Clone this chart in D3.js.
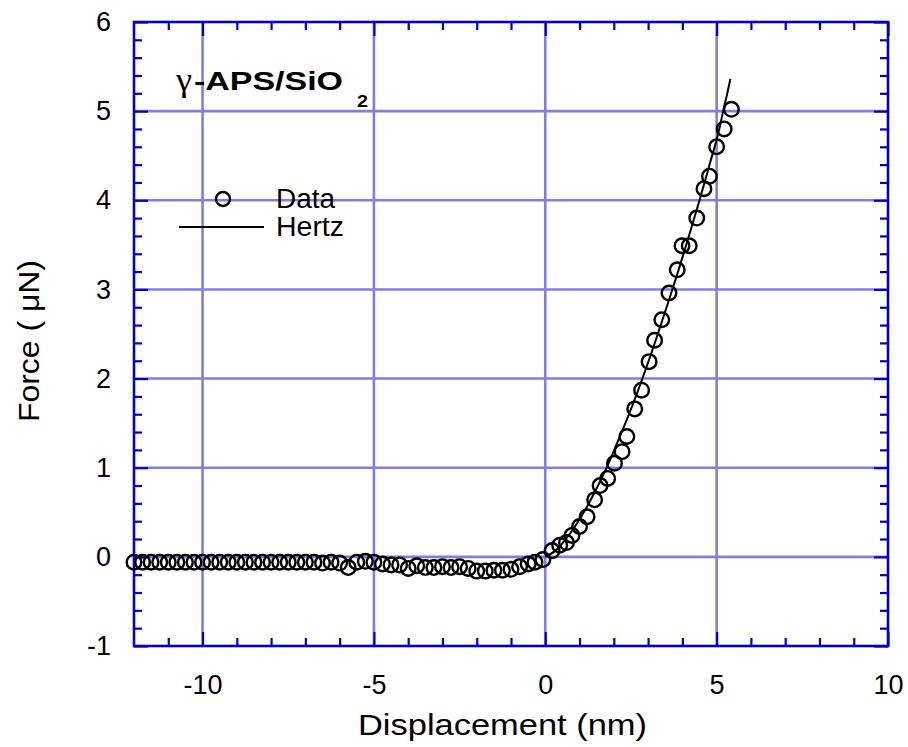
<!DOCTYPE html>
<html>
<head>
<meta charset="utf-8">
<script src="https://cdn.jsdelivr.net/npm/d3@7"></script>
<style>
  html, body { margin: 0; padding: 0; background: #fff; }
  svg { display: block; font-family: Arial, "Liberation Sans", sans-serif; }
</style>
</head>
<body>
<svg id="chart" width="908" height="747"></svg>
<script>
// ---- Data ----
const dataX = [
  -12.0, -11.75, -11.5, -11.25, -11.0, -10.75, -10.5, -10.25, -10.0, -9.75, -9.5, -9.25,
  -9.0, -8.75, -8.5, -8.25, -8.0, -7.75, -7.5, -7.25, -7.0, -6.75, -6.5, -6.25,
  -6.0, -5.75, -5.5, -5.25, -5.0, -4.75, -4.5, -4.25, -4.0, -3.75, -3.5, -3.25,
  -3.0, -2.75, -2.5, -2.25, -2.0, -1.75, -1.5, -1.25, -1.0, -0.75, -0.5, -0.3,
  -0.07, 0.2, 0.42, 0.62, 0.78, 1.0, 1.22, 1.44, 1.6, 1.82, 2.02, 2.24,
  2.38, 2.61, 2.81, 3.03, 3.19, 3.40, 3.61, 3.85, 3.99, 4.2, 4.42, 4.63,
  4.79, 5.0, 5.22, 5.43
];
const dataY = [
  -0.06, -0.06, -0.06, -0.06, -0.06, -0.06, -0.06, -0.06, -0.06, -0.06, -0.06, -0.06,
  -0.06, -0.06, -0.06, -0.06, -0.06, -0.06, -0.06, -0.06, -0.06, -0.06, -0.07, -0.06,
  -0.07, -0.12, -0.06, -0.05, -0.06, -0.08, -0.09, -0.09, -0.13, -0.10, -0.12, -0.12,
  -0.11, -0.12, -0.11, -0.13, -0.16, -0.16, -0.15, -0.15, -0.14, -0.11, -0.08, -0.06,
  -0.03, 0.07, 0.13, 0.16, 0.24, 0.34, 0.45, 0.64, 0.80, 0.88, 1.05, 1.18,
  1.35, 1.66, 1.87, 2.19, 2.43, 2.66, 2.96, 3.22, 3.49, 3.49, 3.80, 4.13,
  4.27, 4.60, 4.80, 5.02
];
const hertzX = [0, 0.3, 0.6, 0.9, 1.2, 1.5, 1.8, 2.1, 2.4, 2.7, 3.0, 3.3, 3.6, 3.9, 4.2, 4.5, 4.8, 5.0, 5.1, 5.2, 5.3, 5.4];
const hertzY = [0, 0.07, 0.2, 0.36, 0.55, 0.77, 1.01, 1.28, 1.56, 1.86, 2.18, 2.52, 2.87, 3.23, 3.61, 4.0, 4.41, 4.68, 4.84, 5.02, 5.18, 5.36];

const xMajorTicks = [-10, -5, 0, 5, 10];
const xMinorTicks = [-11, -9, -8, -7, -6, -4, -3, -2, -1, 1, 2, 3, 4, 6, 7, 8, 9];
const yMajorTicks = [-1, 0, 1, 2, 3, 4, 5, 6];
const yMinorTicks = [-0.8, -0.6, -0.4, -0.2, 0.2, 0.4, 0.6, 0.8, 1.2, 1.4, 1.6, 1.8, 2.2, 2.4, 2.6, 2.8,
                     3.2, 3.4, 3.6, 3.8, 4.2, 4.4, 4.6, 4.8, 5.2, 5.4, 5.6, 5.8];
const xGrid = [-10, -5, 0, 5];
const yGrid = [0, 1, 2, 3, 4, 5];

const xTitle = "Displacement (nm)";
const yTitle = "Force ( μN)";
const legendLabels = ["Data", "Hertz"];

// ---- Layout ----
const svg = d3.select("#chart");
const L = 134, R = 888, T = 22, B = 646;
const x = d3.scaleLinear().domain([-12, 10]).range([L, R]);
const y = d3.scaleLinear().domain([-1, 6]).range([B, T]);

const frameColor = "#0000cc";
const gridColor = "#7f7fe2";
const fmt = d => String(d);

// Grid
const grid = svg.append("g");
grid.selectAll("line.gx").data(xGrid).join("line")
  .attr("x1", d => x(d)).attr("x2", d => x(d)).attr("y1", T).attr("y2", B)
  .attr("stroke", gridColor).attr("stroke-width", 2.6);
grid.selectAll("line.gy").data(yGrid).join("line")
  .attr("y1", d => y(d)).attr("y2", d => y(d)).attr("x1", L).attr("x2", R)
  .attr("stroke", gridColor).attr("stroke-width", 2.6);

function styleAxis(g) {
  g.select(".domain").remove();
  g.selectAll(".tick line").attr("stroke", frameColor).attr("stroke-width", 2.2);
  g.selectAll(".tick text").attr("fill", "#000").attr("font-size", 27)
    .attr("font-family", "Arial, 'Liberation Sans', sans-serif");
}
const majLen = 14, minLen = 8;

// bottom
svg.append("g").attr("transform", `translate(0,${B})`)
  .call(d3.axisBottom(x).tickValues(xMajorTicks).tickSizeInner(-majLen).tickSizeOuter(0).tickPadding(29).tickFormat(fmt))
  .call(styleAxis);
svg.append("g").attr("transform", `translate(0,${B})`)
  .call(d3.axisBottom(x).tickValues(xMinorTicks).tickSizeInner(-minLen).tickSizeOuter(0).tickFormat(""))
  .call(styleAxis);
// top
svg.append("g").attr("transform", `translate(0,${T})`)
  .call(d3.axisTop(x).tickValues(xMajorTicks).tickSizeInner(-majLen).tickSizeOuter(0).tickFormat(""))
  .call(styleAxis);
svg.append("g").attr("transform", `translate(0,${T})`)
  .call(d3.axisTop(x).tickValues(xMinorTicks).tickSizeInner(-minLen).tickSizeOuter(0).tickFormat(""))
  .call(styleAxis);
// left
svg.append("g").attr("transform", `translate(${L},0)`)
  .call(d3.axisLeft(y).tickValues(yMajorTicks).tickSizeInner(-majLen).tickSizeOuter(0).tickPadding(23).tickFormat(fmt))
  .call(styleAxis);
svg.append("g").attr("transform", `translate(${L},0)`)
  .call(d3.axisLeft(y).tickValues(yMinorTicks).tickSizeInner(-minLen).tickSizeOuter(0).tickFormat(""))
  .call(styleAxis);
// right
svg.append("g").attr("transform", `translate(${R},0)`)
  .call(d3.axisRight(y).tickValues(yMajorTicks).tickSizeInner(-majLen).tickSizeOuter(0).tickFormat(""))
  .call(styleAxis);
svg.append("g").attr("transform", `translate(${R},0)`)
  .call(d3.axisRight(y).tickValues(yMinorTicks).tickSizeInner(-minLen).tickSizeOuter(0).tickFormat(""))
  .call(styleAxis);

// Frame
svg.append("rect").attr("x", L).attr("y", T).attr("width", R - L).attr("height", B - T)
  .attr("fill", "none").attr("stroke", frameColor).attr("stroke-width", 2.6);

// Hertz line
const lineGen = d3.line().x(d => x(d[0])).y(d => y(d[1])).curve(d3.curveCatmullRom);
svg.append("path").datum(hertzX.map((v, i) => [v, hertzY[i]]))
  .attr("d", lineGen).attr("fill", "none").attr("stroke", "#000").attr("stroke-width", 2);

// Data circles
svg.append("g").selectAll("circle").data(dataX.map((v, i) => [v, dataY[i]])).join("circle")
  .attr("cx", d => x(d[0])).attr("cy", d => y(d[1])).attr("r", 7.3)
  .attr("fill", "none").attr("stroke", "#000").attr("stroke-width", 2.4);

// Axis titles
svg.append("text").attr("x", 358).attr("y", 735).attr("font-size", 30)
  .attr("textLength", 289).attr("lengthAdjust", "spacingAndGlyphs").text(xTitle);
svg.append("text").attr("transform", "translate(39,422) rotate(-90)").attr("font-size", 30)
  .attr("textLength", 162).attr("lengthAdjust", "spacingAndGlyphs").text(yTitle);

// Chart label
svg.append("text").attr("x", 176).attr("y", 91).attr("font-size", 33)
  .attr("font-family", "'Liberation Serif', 'DejaVu Serif', serif")
  .attr("textLength", 16).attr("lengthAdjust", "spacingAndGlyphs").text("γ");
svg.append("text").attr("x", 194).attr("y", 90).attr("font-size", 26).attr("font-weight", "bold")
  .attr("textLength", 149).attr("lengthAdjust", "spacingAndGlyphs").text("-APS/SiO");
svg.append("text").attr("x", 357).attr("y", 107).attr("font-size", 16).attr("font-weight", "bold")
  .attr("textLength", 11).attr("lengthAdjust", "spacingAndGlyphs").text("2");

// Legend
svg.append("circle").attr("cx", 223).attr("cy", 199).attr("r", 7)
  .attr("fill", "none").attr("stroke", "#000").attr("stroke-width", 2.4);
svg.append("line").attr("x1", 179).attr("x2", 264).attr("y1", 227).attr("y2", 227)
  .attr("stroke", "#000").attr("stroke-width", 2);
svg.append("text").attr("x", 276).attr("y", 208).attr("font-size", 27)
  .attr("textLength", 59).attr("lengthAdjust", "spacingAndGlyphs").text(legendLabels[0]);
svg.append("text").attr("x", 276).attr("y", 236).attr("font-size", 27)
  .attr("textLength", 68).attr("lengthAdjust", "spacingAndGlyphs").text(legendLabels[1]);
</script>
</body>
</html>
